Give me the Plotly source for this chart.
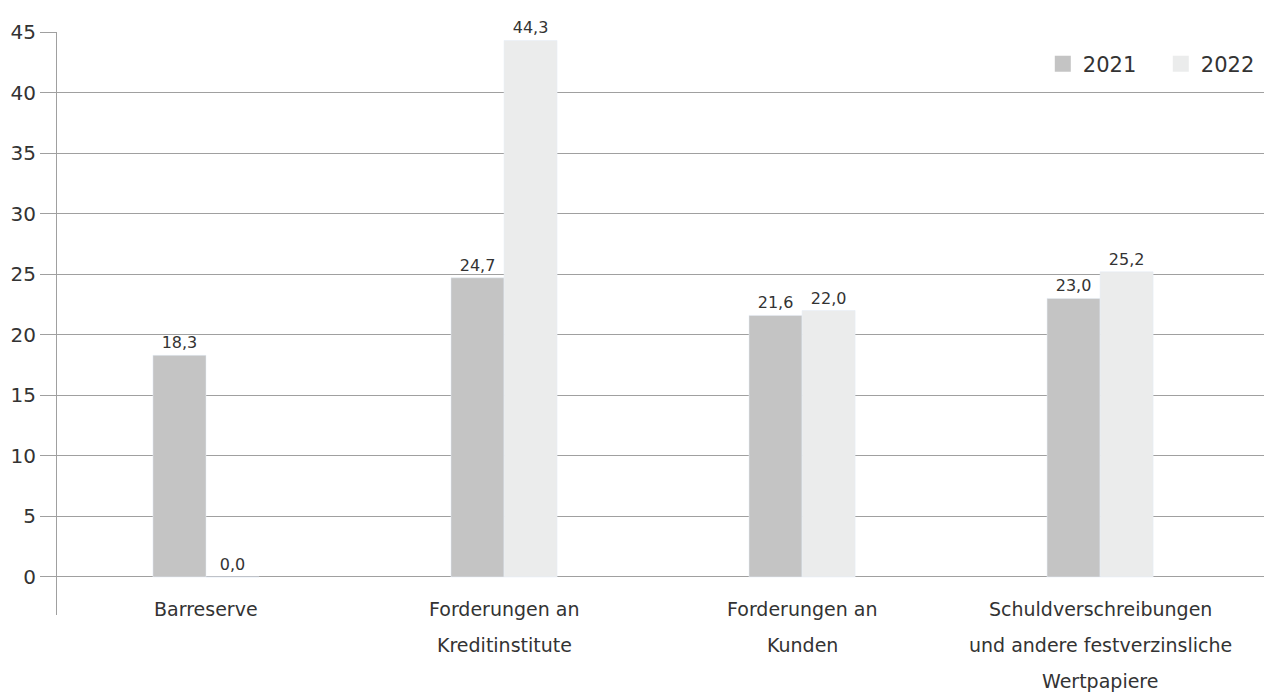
import plotly.graph_objects as go

categories = ["Barreserve", "Forderungen an<br>Kreditinstitute", "Forderungen an<br>Kunden",
              "Schuldverschreibungen<br>und andere festverzinsliche<br>Wertpapiere"]
series_names = ["2021", "2022"]
v2021 = [18.3, 24.7, 21.6, 23.0]
v2022 = [0.0, 44.3, 22.0, 25.2]
yticks = [0, 5, 10, 15, 20, 25, 30, 35, 40, 45]

FONT = "DejaVu Sans"
TXT = "#333333"
COLORS = ["#c4c4c4", "#ebecec"]

fig = go.Figure()
for name, vals, col in zip(series_names, [v2021, v2022], COLORS):
    fig.add_trace(go.Bar(name=name, x=list(range(4)), y=vals, marker_color=col,
                         texttemplate="%{y:.1f}", textposition="outside", cliponaxis=False,
                         textfont=dict(size=16, color=TXT, family=FONT),
                         showlegend=False, legendgroup=name))
for name, col in zip(series_names, COLORS):
    fig.add_trace(go.Scatter(name=name, x=[None], y=[None], mode="markers",
                             marker=dict(symbol="square", size=18, color=col),
                             legendgroup=name, showlegend=True))

# category labels, one annotation per line
for i, lab in enumerate(categories):
    for j, line in enumerate(lab.split("<br>")):
        fig.add_annotation(x=i, y=0, xref="x", yref="paper", text=line, showarrow=False,
                           yanchor="middle", yshift=(6 - 36 * j),
                           font=dict(size=19, color=TXT, family=FONT))

fig.update_layout(
    width=1264, height=697, paper_bgcolor="white", plot_bgcolor="white",
    margin=dict(l=57, r=0, t=32, b=82, autoexpand=False),
    barmode="group", bargap=0.644, bargroupgap=0,
    separators=",.",
    font=dict(family=FONT, color=TXT),
    legend=dict(orientation="h", xref="container", x=0.825, xanchor="left",
                y=0.945, yanchor="middle",
                font=dict(size=21, color=TXT, family=FONT), itemwidth=30,
                entrywidth=73, entrywidthmode="pixels",
                bgcolor="rgba(0,0,0,0)"),
    xaxis=dict(range=[-0.5, 3.55], showticklabels=False, showgrid=False, zeroline=False,
               showline=False, ticks=""),
    yaxis=dict(range=[-3.14, 45], tickvals=yticks, ticktext=[str(t) for t in yticks],
               showgrid=True, gridcolor="#a0a0a0", gridwidth=1, zeroline=False,
               showline=True, linecolor="#a0a0a0", linewidth=1,
               ticks="outside", ticklen=16, tickcolor="#a0a0a0",
               tickfont=dict(size=20, color=TXT, family=FONT)),
)

fig.write_html("out.html")
